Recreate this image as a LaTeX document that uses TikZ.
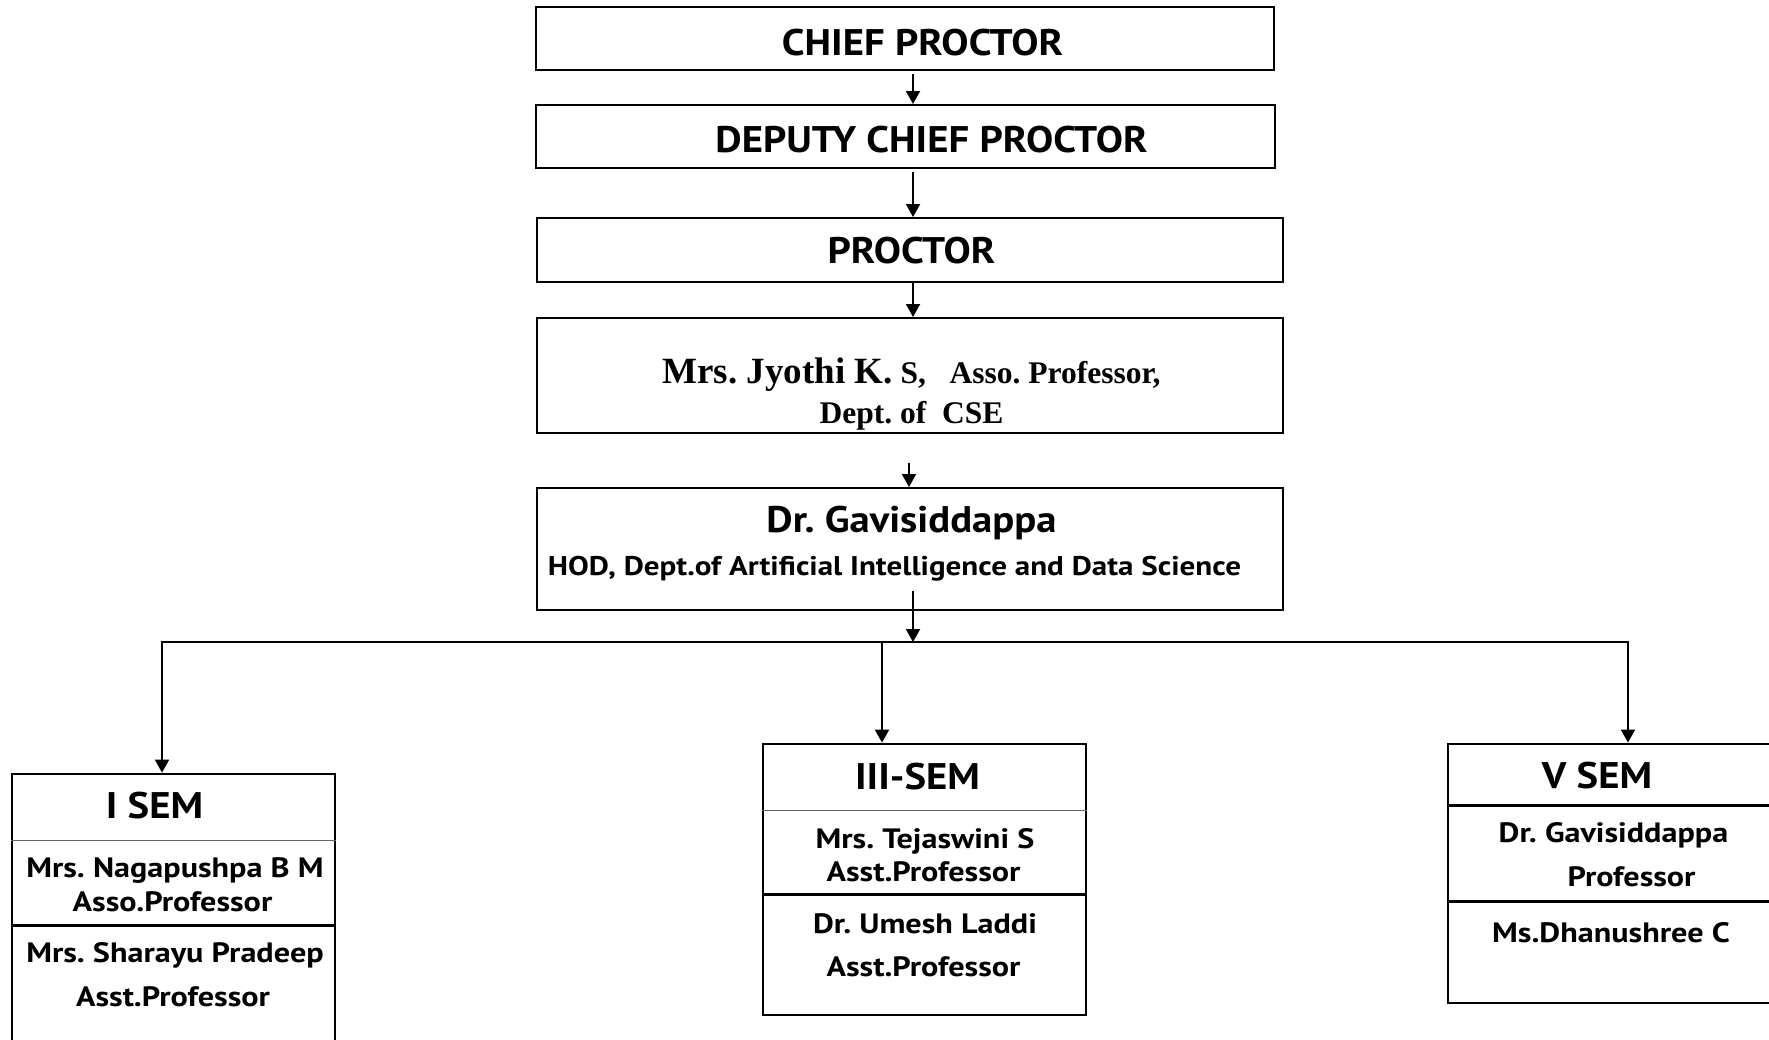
\documentclass[tikz,border=0pt]{standalone}
\usepackage{fontspec}
\newfontfamily\hdfont[FakeStretch=1.1]{PT Sans}
\newfontfamily\nmfont[FakeStretch=1.15]{PT Sans}
\newfontfamily\tnr{Liberation Serif}
\usepackage{tikz}
\usetikzlibrary{arrows.meta,calc}
\tikzset{box/.style={rectangle,draw,line width=2pt,inner sep=0pt},
  sem/.style={rectangle,draw,line width=2.8pt,inner sep=0pt},
  hd/.style={anchor=base,inner sep=0pt,font=\hdfont\bfseries\fontsize{37}{40}\selectfont},
  nm/.style={anchor=base,inner sep=0pt,font=\nmfont\bfseries\fontsize{28}{32}\selectfont},
  sf/.style={anchor=base,inner sep=0pt,font=\tnr\bfseries\fontsize{31.5}{34}\selectfont},
  arr/.style={line width=2pt,-{Triangle[width=14pt,length=13pt]}},
  thn/.style={line width=1.2pt,black!60},
  thk/.style={line width=2.6pt}}
\frenchspacing

\begin{document}
\begin{tikzpicture}[x=1pt,y=-1pt]
    \useasboundingbox (0,0) rectangle (1769,1039);
    % top chain
    \node[box,minimum width=738,minimum height=63] (chief) at (905,38.5) {};
    \node[box,minimum width=739,minimum height=63] (deputy) at (905.5,136.5) {};
    \node[box,minimum width=746,minimum height=64] (proctor) at (910,250) {};
    \node[box,minimum width=746,minimum height=115] (jyothi) at (910,375.5) {};
    \node[box,minimum width=746,minimum height=122] (hod) at (910,549) {};
    \node[hd] (chiefT) at (922.5,55) {CHIEF PROCTOR};
    \node[hd] (deputyT) at (931.5,152) {DEPUTY CHIEF PROCTOR};
    \node[hd] (proctorT) at (911.5,263) {PROCTOR};
    \node[sf] (jyothiT) at (911.5,383) {{\fontsize{37}{40}\selectfont Mrs. Jyothi K.} S,\ \ \ Asso. Professor,};
    \node[sf] (jyothiD) at (911.5,423) {Dept. of\ \ CSE};
    \node[hd] (hodT) at (911.5,532) {Dr. Gavisiddappa};
    \node[nm,font=\nmfont\bfseries\fontsize{27}{30}\selectfont] (hodD) at (894.5,575) {HOD, Dept.of Artificial Intelligence and Data Science};
    % semesters
    \node[sem,minimum width=323,minimum height=286] (isem) at (173.5,917) {};
    \node[sem,minimum width=323,minimum height=271] (iiisem) at (924.5,879.5) {};
    \node[sem,minimum width=340,minimum height=259] (vsem) at (1618,873.5) {};
    \draw[thn] ([yshift=-68]isem.north west) -- ([yshift=-68]isem.north east);
    \draw[thk] ([yshift=-153]isem.north west) -- ([yshift=-153]isem.north east);
    \draw[thn] ([yshift=-68]iiisem.north west) -- ([yshift=-68]iiisem.north east);
    \draw[thk] ([yshift=-152]iiisem.north west) -- ([yshift=-152]iiisem.north east);
    \draw[thk] ([yshift=-63]vsem.north west) -- ([yshift=-63]vsem.north east);
    \draw[thk] ([yshift=-159]vsem.north west) -- ([yshift=-159]vsem.north east);
    \node[hd] (isemT) at (154.5,818) {I SEM};
    \node[nm] (isemA) at (175,877) {Mrs. Nagapushpa B M};
    \node[nm] (isemAp) at (172.5,911) {Asso.Professor};
    \node[nm] (isemB) at (175,962) {Mrs. Sharayu Pradeep};
    \node[nm] (isemBp) at (173,1006) {Asst.Professor};
    \node[hd] (iiisemT) at (917.5,789) {III-SEM};
    \node[nm] (iiisemA) at (925,848) {Mrs. Tejaswini S};
    \node[nm] (iiisemAp) at (923.5,881) {Asst.Professor};
    \node[nm] (iiisemB) at (925,933) {Dr. Umesh Laddi};
    \node[nm] (iiisemBp) at (923.5,976) {Asst.Professor};
    \node[hd] (vsemT) at (1597,788) {V SEM};
    \node[nm] (vsemA) at (1613.5,842) {Dr. Gavisiddappa};
    \node[nm] (vsemAp) at (1631.5,886) {Professor};
    \node[nm] (vsemB) at (1611,942) {Ms.Dhanushree C};
    % connectors
    \coordinate (spine) at (913,0);
    \coordinate (bus) at (913,642);
    \draw[arr] ([yshift=-3]chief.south -| spine) -- (deputy.north -| spine);
    \draw[arr] ([yshift=-3]deputy.south -| spine) -- (proctor.north -| spine);
    \draw[arr] (proctor.south -| spine) -- (jyothi.north -| spine);
    \draw[arr] ([yshift=-29]jyothi.south -| 909,0) -- (hod.north -| 909,0);
    \draw[arr] ([yshift=20]hod.south -| spine) -- (bus);
    \draw[line width=2pt] (161,642) -- (1629,642);
    \draw[arr] (162,642) -- (isem.north -| 162,0);
    \draw[arr] (882,642) -- (iiisem.north -| 882,0);
    \draw[arr] (1628,642) -- (vsem.north -| 1628,0);
\end{tikzpicture}
\end{document}
